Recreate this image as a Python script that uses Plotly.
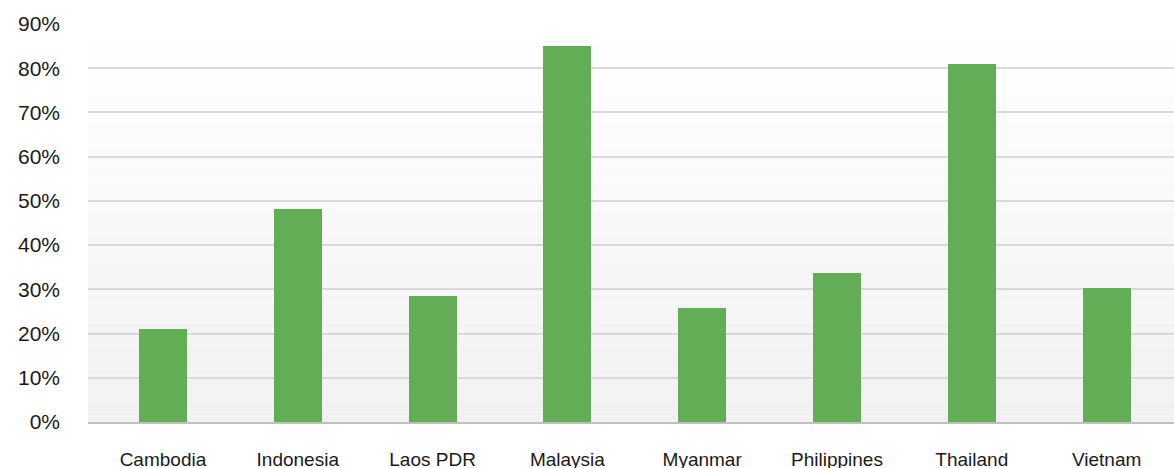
import plotly.graph_objects as go

countries = ["Cambodia", "Indonesia", "Laos PDR", "Malaysia", "Myanmar",
             "Philippines", "Thailand", "Vietnam"]
shares = [0.211, 0.481, 0.286, 0.850, 0.257, 0.336, 0.809, 0.302]
y_ticks = [0, 0.1, 0.2, 0.3, 0.4, 0.5, 0.6, 0.7, 0.8, 0.9]

BAR_COLOR = "#62AD56"
FONT = "Liberation Sans"

fig = go.Figure()
fig.add_trace(go.Bar(
    x=list(range(len(countries))),
    y=shares,
    width=0.356,
    marker=dict(color=BAR_COLOR, line=dict(width=0)),
    hoverinfo="skip",
))

# soft vertical gradient behind the plot: white at top, light grey at bottom
n_strips = 60
top_rgb = (255, 255, 255)
bot_rgb = (241, 241, 241)
shapes = []
for i in range(n_strips):
    t = i / (n_strips - 1)
    r = round(bot_rgb[0] + (top_rgb[0] - bot_rgb[0]) * t)
    g = round(bot_rgb[1] + (top_rgb[1] - bot_rgb[1]) * t)
    b = round(bot_rgb[2] + (top_rgb[2] - bot_rgb[2]) * t)
    shapes.append(dict(
        type="rect", xref="x domain", yref="y domain",
        x0=0, x1=1, y0=i / n_strips, y1=(i + 1) / n_strips,
        fillcolor=f"rgb({r},{g},{b})", line=dict(width=0), layer="below",
    ))

fig.update_layout(
    width=1174, height=468,
    margin=dict(l=88, r=0, t=24, b=46, pad=0, autoexpand=False),
    paper_bgcolor="white",
    plot_bgcolor="white",
    showlegend=False,
    bargap=0,
    shapes=shapes,
    font=dict(family=FONT, color="#1a1a1a"),
)
fig.update_xaxes(
    range=[-0.556, 7.5],
    tickmode="array",
    tickvals=list(range(len(countries))),
    ticktext=countries,
    tickfont=dict(size=19, family=FONT, color="#1a1a1a"),
    showgrid=False,
    showline=True, linecolor="#BFBFBF", linewidth=1.5,
    ticks="", ticklabelstandoff=19,
    zeroline=False, automargin=False,
)
fig.update_yaxes(
    range=[0, 0.9],
    tickmode="array",
    tickvals=y_ticks,
    ticktext=[f"{round(v * 100)}%" for v in y_ticks],
    tickfont=dict(size=21, family=FONT, color="#1a1a1a"),
    showgrid=True, gridcolor="#D9D9D9", gridwidth=1.5,
    zeroline=False, showline=False,
    ticks="", ticklabelstandoff=27, automargin=False,
)

fig.write_html("out.html")
